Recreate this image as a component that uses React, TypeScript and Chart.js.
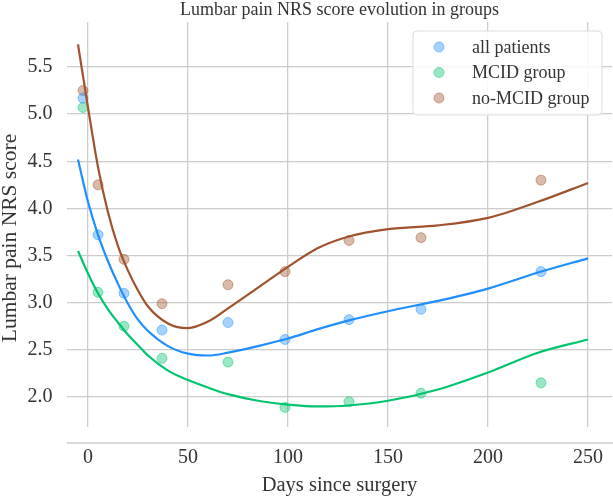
import React, { useEffect, useRef } from 'react';
import { Chart, registerables } from 'chart.js';

Chart.register(...registerables);

const FONT = '"Liberation Serif", "Times New Roman", serif';

const TITLE = 'Lumbar pain NRS score evolution in groups';
const X_LABEL = 'Days since surgery';
const Y_LABEL = 'Lumbar pain NRS score';
const SERIES_NAMES = ['all patients', 'MCID group', 'no-MCID group'];

const X_TICKS = [0, 50, 100, 150, 200, 250];
const Y_TICKS = [2.0, 2.5, 3.0, 3.5, 4.0, 4.5, 5.0, 5.5];

// observed group means
const POINT_DAYS = [-2.5, 5, 18, 37, 70, 98.5, 130.5, 166.5, 226.5];
const ALL_PATIENTS = [5.17, 3.72, 3.1, 2.71, 2.79, 2.61, 2.82, 2.93, 3.33];
const MCID_GROUP = [5.07, 3.11, 2.75, 2.41, 2.37, 1.89, 1.95, 2.04, 2.15];
const NO_MCID_GROUP = [5.25, 4.25, 3.46, 2.99, 3.19, 3.33, 3.66, 3.69, 4.3];

// fitted curves
const CURVE_DAYS = [-5, 0, 5, 10, 15, 20, 25, 30, 40, 50, 60, 70, 85, 100, 115, 130, 150, 175, 200, 225, 250];
const ALL_CURVE = [4.52, 4.07, 3.72, 3.44, 3.2, 2.99, 2.82, 2.7, 2.54, 2.46, 2.44, 2.47, 2.54, 2.62, 2.72, 2.81, 2.91, 3.02, 3.15, 3.32, 3.47];
const MCID_CURVE = [3.55, 3.31, 3.1, 2.93, 2.79, 2.66, 2.55, 2.44, 2.28, 2.18, 2.1, 2.03, 1.96, 1.92, 1.9, 1.91, 1.96, 2.08, 2.26, 2.47, 2.61];
const NO_MCID_CURVE = [5.74, 5.07, 4.44, 3.96, 3.6, 3.34, 3.13, 2.96, 2.78, 2.73, 2.8, 2.94, 3.16, 3.38, 3.58, 3.7, 3.78, 3.82, 3.9, 4.07, 4.27];

const LINE_COLORS = ['#1E8FFF', '#00C46E', '#A0522D'];
const POINT_COLORS = ['rgba(30,143,255,0.4)', 'rgba(0,196,110,0.4)', 'rgba(160,82,45,0.4)'];
const POINT_BORDERS = ['rgba(30,143,255,0.45)', 'rgba(0,196,110,0.45)', 'rgba(160,82,45,0.45)'];

const GRID = '#cccccc';
const TEXT = '#333333';

const toXY = (xs: number[], ys: number[]) => xs.map((x, i) => ({ x, y: ys[i] }));

const decorPlugin = {
  id: 'decor',
  afterDraw(chart: any) {
    const { ctx, chartArea } = chart;
    const { left, right, bottom } = chartArea;
    const cx = (left + right) / 2;
    ctx.save();
    // offset bottom spine
    ctx.strokeStyle = GRID;
    ctx.lineWidth = 1.3;
    ctx.beginPath();
    ctx.moveTo(left, bottom + 16);
    ctx.lineTo(chart.width, bottom + 16);
    ctx.stroke();

    ctx.fillStyle = TEXT;
    ctx.textAlign = 'center';
    ctx.textBaseline = 'alphabetic';
    ctx.font = `18px ${FONT}`;
    ctx.fillText(TITLE, cx, 14.5);

    ctx.font = `20.5px ${FONT}`;
    ctx.fillText(X_LABEL, cx, 491);

    ctx.save();
    ctx.font = `21.5px ${FONT}`;
    ctx.translate(16, 238);
    ctx.rotate(-Math.PI / 2);
    ctx.fillText(Y_LABEL, 0, 0);
    ctx.restore();

    // legend
    const bx = 413, by = 31, bw = 189, bh = 84, r = 4;
    ctx.beginPath();
    ctx.moveTo(bx + r, by);
    ctx.lineTo(bx + bw - r, by);
    ctx.quadraticCurveTo(bx + bw, by, bx + bw, by + r);
    ctx.lineTo(bx + bw, by + bh - r);
    ctx.quadraticCurveTo(bx + bw, by + bh, bx + bw - r, by + bh);
    ctx.lineTo(bx + r, by + bh);
    ctx.quadraticCurveTo(bx, by + bh, bx, by + bh - r);
    ctx.lineTo(bx, by + r);
    ctx.quadraticCurveTo(bx, by, bx + r, by);
    ctx.closePath();
    ctx.fillStyle = 'rgba(255,255,255,0.85)';
    ctx.fill();
    ctx.strokeStyle = '#dddddd';
    ctx.lineWidth = 1;
    ctx.stroke();

    ctx.font = `18px ${FONT}`;
    ctx.textAlign = 'left';
    ctx.textBaseline = 'middle';
    SERIES_NAMES.forEach((name, i) => {
      const y = 47 + i * 25.5;
      ctx.beginPath();
      ctx.arc(439, y, 5, 0, Math.PI * 2);
      ctx.fillStyle = POINT_COLORS[i];
      ctx.fill();
      ctx.strokeStyle = POINT_BORDERS[i];
      ctx.lineWidth = 1;
      ctx.stroke();
      ctx.fillStyle = TEXT;
      ctx.fillText(name, 472, y + 1);
    });
    ctx.restore();
  },
};

export default function App() {
  const canvasRef = useRef<HTMLCanvasElement | null>(null);

  useEffect(() => {
    document.body.style.margin = '0';
    const canvas = canvasRef.current;
    if (!canvas) return;
    const curves = [ALL_CURVE, MCID_CURVE, NO_MCID_CURVE];
    const points = [ALL_PATIENTS, MCID_GROUP, NO_MCID_GROUP];

    const lineSets = curves.map((c, i) => ({
      type: 'line' as const,
      label: SERIES_NAMES[i] + ' fit',
      data: toXY(CURVE_DAYS, c),
      borderColor: LINE_COLORS[i],
      borderWidth: 2.2,
      pointRadius: 0,
      fill: false,
      cubicInterpolationMode: 'monotone' as const,
    }));
    const pointSets = points.map((p, i) => ({
      type: 'scatter' as const,
      label: SERIES_NAMES[i],
      data: toXY(POINT_DAYS, p),
      backgroundColor: POINT_COLORS[i],
      borderColor: POINT_BORDERS[i],
      borderWidth: 1,
      pointRadius: 5,
      showLine: false,
    }));

    const chart = new Chart(canvas, {
      type: 'line',
      data: { datasets: [...lineSets, ...pointSets] as any },
      options: {
        animation: false,
        responsive: false,
        events: [],
        layout: { autoPadding: false, padding: { top: 22, right: 1, left: 0, bottom: 0 } },
        plugins: {
          legend: { display: false },
          title: { display: false },
          tooltip: { enabled: false },
        },
        scales: {
          x: {
            type: 'linear',
            min: -10.5,
            max: 262,
            afterBuildTicks: (s: any) => {
              s.ticks = X_TICKS.map((v) => ({ value: v }));
            },
            afterFit: (s: any) => {
              s.height = 75;
              s.paddingLeft = 0;
              s.paddingRight = 0;
              s.paddingTop = 0;
              s.paddingBottom = 0;
            },
            grid: { color: GRID, lineWidth: 1.3, drawTicks: false },
            border: { display: false },
            ticks: {
              padding: 19,
              color: TEXT,
              font: { family: FONT, size: 20 },
              maxRotation: 0,
              autoSkip: false,
              callback: (v: any) => String(v),
            },
          },
          y: {
            type: 'linear',
            min: 1.682,
            max: 5.977,
            afterBuildTicks: (s: any) => {
              s.ticks = Y_TICKS.map((v) => ({ value: v }));
            },
            afterFit: (s: any) => {
              s.width = 67;
              s.paddingLeft = 0;
              s.paddingRight = 0;
              s.paddingTop = 0;
              s.paddingBottom = 0;
            },
            grid: { color: GRID, lineWidth: 1.3, drawTicks: false },
            border: { display: false },
            ticks: {
              padding: 14.5,
              color: TEXT,
              font: { family: FONT, size: 20 },
              autoSkip: false,
              callback: (v: any) => Number(v).toFixed(1),
            },
          },
        },
      } as any,
      plugins: [decorPlugin],
    });
    return () => chart.destroy();
  }, []);

  return (
    <div style={{ width: 613, height: 502 }}>
      <canvas ref={canvasRef} width={613} height={502} style={{ display: 'block' }} />
    </div>
  );
}
